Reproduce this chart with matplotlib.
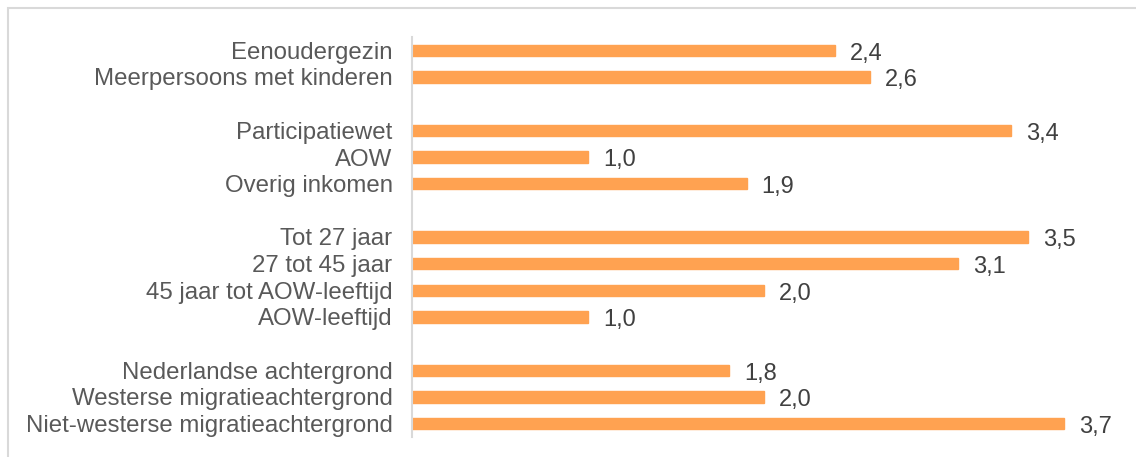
import matplotlib.pyplot as plt
from matplotlib.patches import Rectangle

labels = ["Eenoudergezin", "Meerpersoons met kinderen", "",
          "Participatiewet", "AOW", "Overig inkomen", "",
          "Tot 27 jaar", "27 tot 45 jaar", "45 jaar tot AOW-leeftijd", "AOW-leeftijd", "",
          "Nederlandse achtergrond", "Westerse migratieachtergrond",
          "Niet-westerse migratieachtergrond"]
values = [2.4, 2.6, None,
          3.4, 1.0, 1.9, None,
          3.5, 3.1, 2.0, 1.0, None,
          1.8, 2.0, 3.7]

plt.rcParams['font.family'] = ['Liberation Sans', 'DejaVu Sans']

W, H = 1136, 457
fig = plt.figure(figsize=(W / 100, H / 100), dpi=100)
# light frame around the chart (cut off at right and bottom)
fig.patches.append(Rectangle((8 / W, -0.1), 1.2, 1 - 8 / H + 0.1,
                             transform=fig.transFigure, fill=False,
                             edgecolor='#d9d9d9', linewidth=1.5))

ax = fig.add_axes([412 / W, 20 / H, 708 / W, 400 / H])

for i, v in enumerate(values):
    if v is None:
        continue
    ax.barh(i, v, height=0.42, color='#ffa251', edgecolor='#ffa251')
    ax.text(v + 0.085, i + 0.12, f"{v:.1f}".replace('.', ','), va='center',
            ha='left', fontsize=17, color='#404040')

ax.set_yticks(range(len(labels)))
ax.set_yticklabels(labels, fontsize=17.3, color='#595959')
ax.tick_params(axis='y', length=0, pad=14)
ax.set_ylim(14.5, -0.5)
ax.set_xlim(0, 4.02)
ax.set_xticks([])
for s in ['top', 'right', 'bottom']:
    ax.spines[s].set_visible(False)
ax.spines['left'].set_color('#d9d9d9')
ax.spines['left'].set_linewidth(1.5)

fig.savefig('out.png', dpi=100)
